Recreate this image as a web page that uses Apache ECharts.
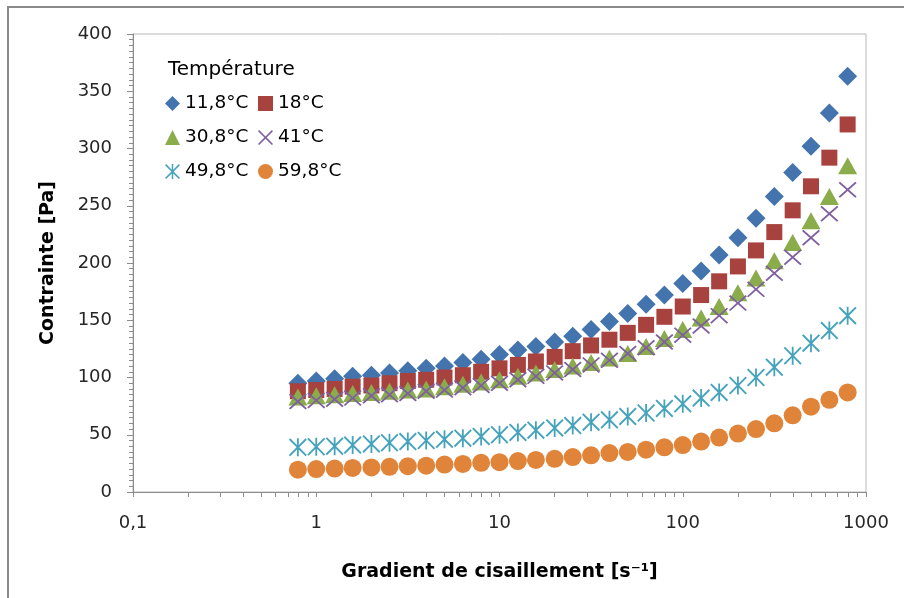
<!DOCTYPE html>
<html>
<head>
<meta charset="utf-8">
<script src="https://cdn.jsdelivr.net/npm/echarts@6/dist/echarts.min.js"></script>
<style>
html,body{margin:0;padding:0;background:#fff;overflow:hidden;}
#wrap{position:relative;width:904px;height:598px;}
#c{position:absolute;left:0;top:0;width:904px;height:598px;}
#frame{position:absolute;left:7px;top:6px;width:1000px;height:1000px;border-left:2px solid #8a8a8a;border-top:2px solid #8a8a8a;pointer-events:none;z-index:5;}
</style>
</head>
<body>
<div id="wrap"><div id="c"></div><div id="frame"></div></div>
<script>
// Shear rate (s^-1), 10 points per decade
var shearRate = [0.794, 1, 1.26, 1.58, 2, 2.51, 3.16, 3.98, 5.01, 6.31, 7.94,
  10, 12.6, 15.8, 20, 25.1, 31.6, 39.8, 50.1, 63.1, 79.4,
  100, 126, 158, 200, 251, 316, 398, 501, 631, 794];

var seriesNames = ['11,8°C', '18°C', '30,8°C', '41°C', '49,8°C', '59,8°C'];

var t11_8 = [95, 97, 99, 101, 102, 104, 106, 108, 110, 113, 116,
  120, 124, 127, 131, 136, 142, 149, 156, 164, 172,
  182, 193, 207, 222, 239, 258, 279, 302, 331, 363];
var t18 = [88, 89, 90, 92, 93, 95, 97, 98, 100, 102, 105,
  108, 111, 114, 118, 123, 128, 133, 139, 146, 153,
  162, 172, 184, 197, 211, 227, 246, 267, 292, 321];
var t30_8 = [83, 84, 85, 86, 87, 88, 89, 90, 92, 94, 96,
  98, 101, 104, 107, 110, 113, 117, 121, 127, 134,
  142, 152, 162, 174, 187, 202, 218, 237, 258, 285];
var t41 = [79, 80, 81, 82, 84, 85, 86, 88, 89, 91, 93,
  95, 98, 101, 104, 107, 111, 115, 121, 126, 131,
  137, 145, 154, 165, 177, 191, 205, 222, 243, 264];
var t49_8 = [39, 39.5, 40, 41, 42, 43, 44, 45, 46, 47, 48.5,
  50, 52, 54, 56, 58, 61, 63, 66, 69, 73,
  77, 82, 87, 93, 100, 109, 119, 130, 141, 154];
var t59_8 = [19.5, 20, 20.5, 21, 21.5, 22, 22.5, 23, 24, 24.5, 25.5,
  26, 27, 28, 29, 30.5, 32, 34, 35, 37, 39,
  41, 44, 47.5, 51, 55, 60, 67, 74.5, 80.5, 87];

var xTickValues = [0.1, 0.2, 0.3, 0.4, 0.5, 0.6, 0.7, 0.8, 0.9,
  1, 2, 3, 4, 5, 6, 7, 8, 9,
  10, 20, 30, 40, 50, 60, 70, 80, 90,
  100, 200, 300, 400, 500, 600, 700, 800, 900, 1000];
var xLabelValues = [0.1, 1, 10, 100, 1000];

var FONT = 'DejaVu Sans';
var colors = ['#4374AE', '#A8423F', '#8AAC4B', '#7E5FA0', '#45A3BC', '#E08439'];
var symX = 'path://M0,1.5L1.5,0L10,8.5L18.5,0L20,1.5L11.5,10L20,18.5L18.5,20L10,11.5L1.5,20L0,18.5L8.5,10Z';
var symAst = 'path://M0,1.5L1.5,0L10,8.5L18.5,0L20,1.5L11.5,10L20,18.5L18.5,20L10,11.5L1.5,20L0,18.5L8.5,10ZM9,0L11,0L11,20L9,20Z';
var symbols = ['diamond', 'rect', 'triangle', symX, symAst, 'circle'];
var sizes = [[19, 19], [16, 16], [19, 17], [18, 16], [18, 18], [18, 18]];
var allValues = [t11_8, t18, t30_8, t41, t49_8, t59_8];

var series = allValues.map(function (vals, i) {
  return {
    name: seriesNames[i],
    type: 'scatter',
    symbol: symbols[i],
    symbolSize: sizes[i],
    itemStyle: { color: colors[i], opacity: 1 },
    data: shearRate.map(function (x, j) { return [x, vals[j]]; }),
    emphasis: { disabled: true }
  };
});

var chart = echarts.init(document.getElementById('c'), null, { renderer: 'canvas' });
chart.setOption({
  animation: false,
  backgroundColor: '#fff',
  color: colors,
  grid: { left: 133, right: 38, top: 34, bottom: 106, show: true, borderColor: '#b8b8b8', borderWidth: 1 },
  title: {
    text: 'Température', left: 168, top: 60, padding: 0,
    textStyle: { fontFamily: FONT, fontSize: 20, fontWeight: 'normal', color: '#000' }
  },
  legend: [{
    data: [seriesNames[0], seriesNames[2], seriesNames[4]],
    orient: 'vertical', left: 165, top: 94, padding: 0, itemGap: 15,
    itemWidth: 15, itemHeight: 15,
    textStyle: { fontFamily: FONT, fontSize: 18.5, color: '#000' }
  }, {
    data: [seriesNames[1], seriesNames[3], seriesNames[5]],
    orient: 'vertical', left: 258, top: 94, padding: 0, itemGap: 15,
    itemWidth: 15, itemHeight: 15,
    textStyle: { fontFamily: FONT, fontSize: 18.5, color: '#000' }
  }],
  xAxis: {
    type: 'log', logBase: 10, min: 0.1, max: 1000,
    name: 'Gradient de cisaillement [s⁻¹]',
    nameLocation: 'middle', nameGap: 71,
    nameTextStyle: { fontFamily: FONT, fontSize: 19, fontWeight: 'bold', color: '#000' },
    axisLine: { lineStyle: { color: '#8c8c8c', width: 1 } },
    axisTick: { show: true, length: 5, customValues: xTickValues, lineStyle: { color: '#8c8c8c' } },
    axisLabel: {
      fontFamily: FONT, fontSize: 18, color: '#262626', margin: 22,
      customValues: xLabelValues,
      formatter: function (v) { return String(v).replace('.', ','); }
    },
    splitLine: { show: false },
    minorTick: { show: false }
  },
  yAxis: {
    type: 'value', min: 0, max: 400, interval: 50,
    name: 'Contrainte [Pa]',
    nameLocation: 'middle', nameGap: 75, nameRotate: 90,
    nameTextStyle: { fontFamily: FONT, fontSize: 19, fontWeight: 'bold', color: '#000' },
    axisLine: { show: true, lineStyle: { color: '#8c8c8c', width: 1 } },
    axisTick: { show: true, length: 6, lineStyle: { color: '#8c8c8c' } },
    minorTick: { show: true, splitNumber: 10, length: 4, lineStyle: { color: '#8c8c8c' } },
    axisLabel: { fontFamily: FONT, fontSize: 18, color: '#262626', margin: 21 },
    splitLine: { show: false }
  },
  series: series
});
</script>
</body>
</html>
